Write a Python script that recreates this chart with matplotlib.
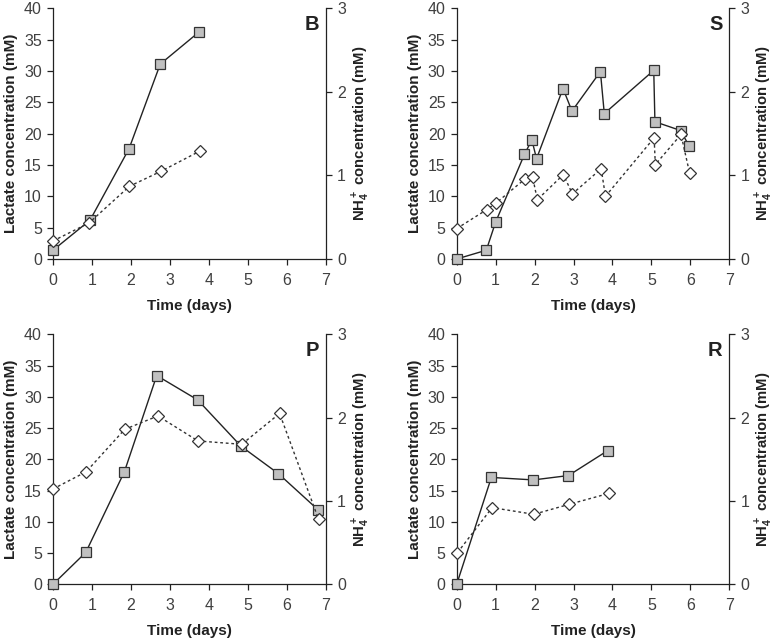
import matplotlib
matplotlib.use("Agg")
import matplotlib.pyplot as plt

plt.rcParams['font.family'] = ['Liberation Sans', 'DejaVu Sans']
plt.rcParams['mathtext.fontset'] = 'custom'
plt.rcParams['mathtext.rm'] = 'Liberation Sans'
plt.rcParams['mathtext.bf'] = 'Liberation Sans:bold'
plt.rcParams['mathtext.default'] = 'bf'

# Panel B
B_lac_t = [0.0, 0.95, 1.95, 2.75, 3.74]
B_lac = [1.4, 6.2, 17.6, 31.1, 36.2]
B_nh4_t = [0.0, 0.92, 1.96, 2.77, 3.76]
B_nh4 = [0.216, 0.43, 0.87, 1.05, 1.29]

# Panel S
S_lac_t = [0.0, 0.76, 1.0, 1.74, 1.93, 2.05, 2.73, 2.96, 3.69, 3.79, 5.06, 5.09, 5.75, 5.97]
S_lac = [0.0, 1.4, 5.9, 16.7, 19.0, 16.0, 27.2, 23.6, 29.9, 23.2, 30.1, 21.9, 20.5, 18.0]
S_nh4_t = [0.0, 0.77, 1.01, 1.76, 1.95, 2.07, 2.74, 2.97, 3.71, 3.82, 5.07, 5.10, 5.76, 5.98]
S_nh4 = [0.364, 0.59, 0.67, 0.96, 0.98, 0.71, 1.01, 0.78, 1.08, 0.75, 1.45, 1.13, 1.49, 1.03]

# Panel P
P_lac_t = [0.0, 0.84, 1.83, 2.66, 3.71, 4.82, 5.78, 6.80]
P_lac = [0.0, 5.1, 18.0, 33.4, 29.5, 22.1, 17.7, 11.9]
P_nh4_t = [0.0, 0.85, 1.84, 2.69, 3.72, 4.84, 5.81, 6.81]
P_nh4 = [1.144, 1.35, 1.86, 2.02, 1.72, 1.68, 2.05, 0.78]

# Panel R
R_lac_t = [0.0, 0.89, 1.97, 2.87, 3.88]
R_lac = [0.0, 17.1, 16.7, 17.4, 21.4]
R_nh4_t = [0.02, 0.91, 1.98, 2.89, 3.90]
R_nh4 = [0.38, 0.92, 0.84, 0.96, 1.09]

panels = [
    ("B", B_lac_t, B_lac, B_nh4_t, B_nh4),
    ("S", S_lac_t, S_lac, S_nh4_t, S_nh4),
    ("P", P_lac_t, P_lac, P_nh4_t, P_nh4),
    ("R", R_lac_t, R_lac, R_nh4_t, R_nh4),
]

W, H = 777, 643
fig = plt.figure(figsize=(W / 100, H / 100), dpi=100)
fig.patch.set_facecolor('white')

boxes = [
    (53, 8.3, 326, 259),
    (456.7, 8.3, 729.3, 259),
    (53, 334.3, 326, 584.3),
    (456.7, 334.3, 729.3, 584.3),
]

tick_col = '#404040'
lab_col = '#222222'
for (name, lt, lv, nt, nv), (x0, y0, x1, y1) in zip(panels, boxes):
    aw, ah = x1 - x0, y1 - y0
    ax = fig.add_axes([x0 / W, 1 - y1 / H, aw / W, ah / H])
    ax2 = ax.twinx()
    ax.plot(lt, lv, color='#222222', lw=1.0, marker='s', ms=7,
            mfc='#c0c0c0', mec='#333333', mew=0.9, zorder=3, clip_on=False)
    ax2.plot(nt, nv, color='#333333', lw=1.0, ls=(0, (2, 2)), marker='D', ms=6.5,
             mfc='white', mec='#333333', mew=0.9, zorder=3, clip_on=False)
    ax.set_xlim(0, 7)
    ax.set_ylim(0, 40)
    ax2.set_ylim(0, 3)
    ax.set_xticks(range(0, 8))
    ax.set_yticks(range(0, 41, 5))
    ax2.set_yticks([0, 1, 2, 3])
    for a in (ax, ax2):
        a.spines['top'].set_visible(False)
        for s in a.spines.values():
            s.set_color('#222222')
            s.set_linewidth(0.9)
        a.tick_params(direction='out', length=4, width=0.9, color='#222222',
                      labelsize=11.5, labelcolor=tick_col, pad=4)
    ax.tick_params(axis='x', pad=6)
    ax2.spines['left'].set_visible(False)
    ax2.spines['bottom'].set_visible(False)
    ax.spines['right'].set_visible(False)
    ax.set_xlabel('Time (days)', fontsize=11, fontweight='bold', color=lab_col)
    ax.xaxis.set_label_coords(0.5, -47 / ah)
    ax.xaxis.label.set_va('center')
    ax.set_ylabel('Lactate concentration (mM)', fontsize=11, fontweight='bold', color=lab_col)
    ax.yaxis.set_label_coords(-42 / aw, 0.5)
    ax.yaxis.label.set_va('center')
    ax2.set_ylabel(r'NH$_4^+$ concentration (mM)', fontsize=10.75, fontweight='bold',
                   color=lab_col, rotation=90)
    ax2.yaxis.set_label_coords(1 + 35 / aw, 0.5)
    ax2.yaxis.label.set_va('center')
    ax.text(0.975, 0.975, name, transform=ax.transAxes, ha='right', va='top',
            fontsize=14.5, fontweight='bold', color='#222222')

fig.savefig('out.png', dpi=100, facecolor='white')
